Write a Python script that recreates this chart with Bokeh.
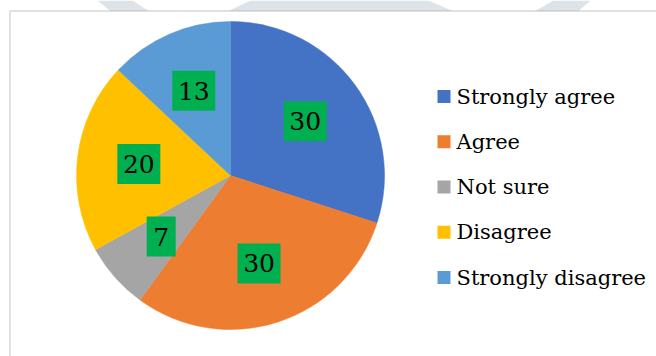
import numpy as np
from bokeh.plotting import figure
from bokeh.models import ColumnDataSource, Range1d, BoxAnnotation
from bokeh.core.properties import value
from bokeh.embed import file_html
from bokeh.resources import INLINE

# ---- data ----
categories = ["Strongly agree", "Agree", "Not sure", "Disagree", "Strongly disagree"]
values = [30, 30, 7, 20, 13]
colors = ["#4472C4", "#ED7D31", "#A5A5A5", "#FFC000", "#5B9BD5"]
labels = [str(v) for v in values]

SERIF = value("DejaVu Serif")

W, H = 656, 356
p = figure(width=W, height=H, x_range=Range1d(0, W), y_range=Range1d(0, H),
           output_backend="svg", toolbar_location=None,
           x_axis_location=None, y_axis_location=None,
           min_border=0, outline_line_color=None)
p.grid.visible = False
p.background_fill_color = "white"
p.border_fill_color = "white"

# faint watermark pieces above the chart frame
wm_xs = [[97, 132, 148, 110], [228, 250, 428, 452], [535, 553, 590, 578]]
wm_ys = [[0, 0, 10.5, 10.5], [10.5, 0, 0, 10.5], [10.5, 0, 0, 10.5]]
p.patches(xs=wm_xs, ys=[[H - y for y in ys] for ys in wm_ys],
          fill_color="#DDE3E6", line_color=None)

# chart frame
p.add_layout(BoxAnnotation(left=9.5, right=W + 20, top=H - 10.5, bottom=-20,
                           fill_alpha=0, line_color="#9C9C9C", line_width=2))

# ---- pie ----
cx, cy, r = 230, H - 175, 154
vals = np.array(values, dtype=float)
frac = vals / vals.sum()
cum_end = np.cumsum(frac)
cum_start = cum_end - frac
start = np.pi / 2 - 2 * np.pi * cum_start
end = np.pi / 2 - 2 * np.pi * cum_end
mid = np.pi / 2 - 2 * np.pi * (cum_start + frac / 2)

src = ColumnDataSource(dict(cat=categories, start=start, end=end, color=colors))
p.wedge(x=cx, y=cy, radius=r, start_angle="start", end_angle="end",
        direction="clock", fill_color="color", line_color="color",
        line_width=0.5, source=src)

# data labels
lr = 0.6 * r
lsrc = ColumnDataSource(dict(
    x=cx + lr * np.cos(mid), y=cy + lr * np.sin(mid), text=labels,
    w=[14 * len(t) + 15 for t in labels]))
p.rect(x="x", y="y", width="w", height=40, fill_color="#00B050",
       line_color=None, source=lsrc)
p.text(x="x", y="y", text="text", source=lsrc, text_color="black",
       text_font=SERIF, text_font_size="25px",
       text_align="center", text_baseline="middle")

# ---- legend ----
n = len(categories)
leg_y = [H - (96 + 45.25 * i) for i in range(n)]
gsrc = ColumnDataSource(dict(y=leg_y, cat=categories, color=colors))
p.rect(x=443.5, y="y", width=13, height=13, fill_color="color",
       line_color=None, source=gsrc)
p.text(x=456, y="y", text="cat", source=gsrc, text_color="black",
       text_font=SERIF, text_font_size="21px",
       text_align="left", text_baseline="middle")

open("out.html", "w").write(file_html(p, INLINE))
